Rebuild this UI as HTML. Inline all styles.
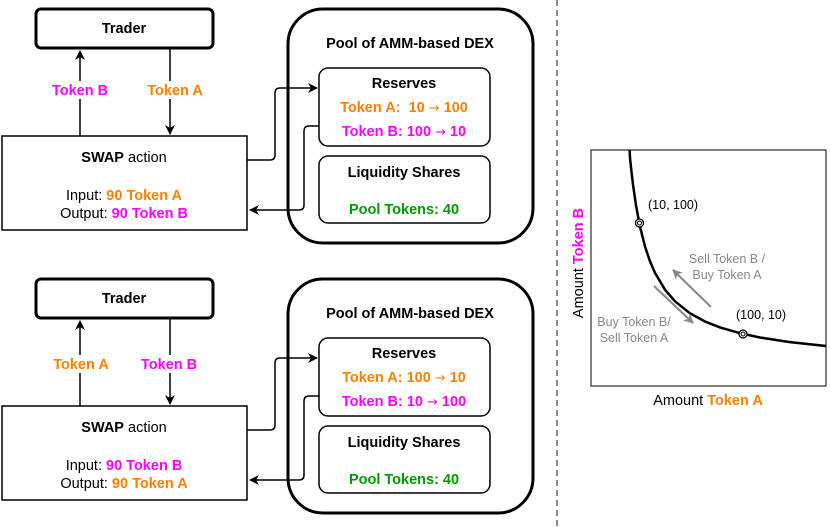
<!DOCTYPE html>
<html><head><meta charset="utf-8"><style>
html,body{margin:0;padding:0;background:#fff;}
svg{display:block;font-family:"Liberation Sans",Arial,sans-serif;}
.b{font-weight:bold;font-size:14.5px;}
.o{fill:#FF8000}.m{fill:#FF00FF}.g{fill:#009900}
.ar{font-family:"DejaVu Sans",sans-serif;font-weight:normal;font-size:13px;}
</style></head><body>
<svg width="830" height="527" viewBox="0 0 830 527" xmlns="http://www.w3.org/2000/svg">
<defs>
<marker id="ah" markerWidth="10" markerHeight="10" refX="9" refY="5" orient="auto" markerUnits="userSpaceOnUse"><path d="M0,0 L10,5 L0,10 L3,5 Z" fill="#000"/></marker>
<marker id="gh" markerWidth="10" markerHeight="10" refX="9" refY="5" orient="auto" markerUnits="userSpaceOnUse"><path d="M0,0 L10,5 L0,10 L3,5 Z" fill="#888"/></marker>
</defs>
<g id="top">
<rect x="36" y="9" width="177" height="39" rx="5" fill="#fff" stroke="#000" stroke-width="3"/>
<text x="124" y="33" text-anchor="middle" class="b">Trader</text>
<line x1="80" y1="136" x2="80" y2="51" stroke="#000" stroke-width="1.5" marker-end="url(#ah)"/>
<line x1="170" y1="49" x2="170" y2="134" stroke="#000" stroke-width="1.5" marker-end="url(#ah)"/>
<rect x="50" y="81" width="60" height="18" fill="#fff"/>
<rect x="140" y="81" width="60" height="18" fill="#fff"/>
<text x="80" y="95" text-anchor="middle" class="b m">Token B</text>
<text x="175" y="95" text-anchor="middle" class="b o">Token A</text>
<rect x="2" y="136" width="245" height="94" fill="#fff" stroke="#000" stroke-width="1.5"/>
<text x="124" y="162" text-anchor="middle" font-size="14.5"><tspan font-weight="bold">SWAP</tspan> action</text>
<text x="124" y="200" text-anchor="middle" font-size="14.5">Input: <tspan class="b o">90 Token A</tspan></text>
<text x="124" y="218" text-anchor="middle" font-size="14.5">Output: <tspan class="b m">90 Token B</tspan></text>
<rect x="288" y="9" width="245" height="234" rx="35" fill="#fff" stroke="#000" stroke-width="3"/>
<text x="410" y="48" text-anchor="middle" class="b">Pool of AMM-based DEX</text>
<rect x="319" y="68" width="171" height="78" rx="9" fill="#fff" stroke="#000" stroke-width="1.5"/>
<text x="404" y="88" text-anchor="middle" class="b">Reserves</text>
<text x="404" y="112" text-anchor="middle" class="b o">Token A:&#160; 10 <tspan class="ar">→</tspan> 100</text>
<text x="404" y="136" text-anchor="middle" class="b m">Token B: 100 <tspan class="ar">→</tspan> 10</text>
<rect x="319" y="156" width="171" height="67" rx="9" fill="#fff" stroke="#000" stroke-width="1.5"/>
<text x="404" y="177" text-anchor="middle" class="b">Liquidity Shares</text>
<text x="404" y="214" text-anchor="middle" class="b g">Pool Tokens: 40</text>
<path d="M247,160 H270 Q275,160 275,155 V93 Q275,88 280,88 H317" fill="none" stroke="#000" stroke-width="1.5" marker-end="url(#ah)"/>
<path d="M319,126 H309 Q304,126 304,131 V205 Q304,210 299,210 H250" fill="none" stroke="#000" stroke-width="1.5" marker-end="url(#ah)"/>
</g>
<g transform="translate(0,270)">
<rect x="36" y="9" width="177" height="39" rx="5" fill="#fff" stroke="#000" stroke-width="3"/>
<text x="124" y="33" text-anchor="middle" class="b">Trader</text>
<line x1="80" y1="136" x2="80" y2="51" stroke="#000" stroke-width="1.5" marker-end="url(#ah)"/>
<line x1="170" y1="49" x2="170" y2="134" stroke="#000" stroke-width="1.5" marker-end="url(#ah)"/>
<rect x="50" y="85" width="62" height="18" fill="#fff"/>
<rect x="138" y="85" width="62" height="18" fill="#fff"/>
<text x="81" y="99" text-anchor="middle" class="b o">Token A</text>
<text x="169" y="99" text-anchor="middle" class="b m">Token B</text>
<rect x="2" y="136" width="245" height="94" fill="#fff" stroke="#000" stroke-width="1.5"/>
<text x="124" y="162" text-anchor="middle" font-size="14.5"><tspan font-weight="bold">SWAP</tspan> action</text>
<text x="124" y="200" text-anchor="middle" font-size="14.5">Input: <tspan class="b m">90 Token B</tspan></text>
<text x="124" y="218" text-anchor="middle" font-size="14.5">Output: <tspan class="b o">90 Token A</tspan></text>
<rect x="288" y="9" width="245" height="234" rx="35" fill="#fff" stroke="#000" stroke-width="3"/>
<text x="410" y="48" text-anchor="middle" class="b">Pool of AMM-based DEX</text>
<rect x="319" y="68" width="171" height="78" rx="9" fill="#fff" stroke="#000" stroke-width="1.5"/>
<text x="404" y="88" text-anchor="middle" class="b">Reserves</text>
<text x="404" y="112" text-anchor="middle" class="b o">Token A: 100 <tspan class="ar">→</tspan> 10</text>
<text x="404" y="136" text-anchor="middle" class="b m">Token B: 10 <tspan class="ar">→</tspan> 100</text>
<rect x="319" y="156" width="171" height="67" rx="9" fill="#fff" stroke="#000" stroke-width="1.5"/>
<text x="404" y="177" text-anchor="middle" class="b">Liquidity Shares</text>
<text x="404" y="214" text-anchor="middle" class="b g">Pool Tokens: 40</text>
<path d="M247,160 H270 Q275,160 275,155 V93 Q275,88 280,88 H317" fill="none" stroke="#000" stroke-width="1.5" marker-end="url(#ah)"/>
<path d="M319,126 H309 Q304,126 304,131 V205 Q304,210 299,210 H250" fill="none" stroke="#000" stroke-width="1.5" marker-end="url(#ah)"/>
</g>
<line x1="557" y1="0" x2="557" y2="527" stroke="#888" stroke-width="2" stroke-dasharray="6,4"/>
<rect x="591" y="150" width="235" height="236" fill="#fff" stroke="#000" stroke-width="1"/>
<polyline points="629.6,150 630,157.5 631,167.4 633,184.6 636,205.4 640,226.7 645,246.5 650,261.4 655,272.9 665,289.7 675,301.3 690,313.3 705,321.5 720,327.4 740,333.2 760,337.5 790,342.1 826,346" fill="none" stroke="#000" stroke-width="2.5" stroke-linejoin="round"/>
<circle cx="639.5" cy="223" r="4" fill="#fff" stroke="#000" stroke-width="1.3"/><circle cx="639.5" cy="223" r="2" fill="none" stroke="#000" stroke-width="1"/>
<circle cx="743" cy="334" r="4" fill="#fff" stroke="#000" stroke-width="1.3"/><circle cx="743" cy="334" r="2" fill="none" stroke="#000" stroke-width="1"/>
<text x="648" y="209" font-size="12.5">(10, 100)</text>
<text x="736" y="319" font-size="12.5">(100, 10)</text>
<line x1="711" y1="307" x2="673" y2="270" stroke="#888" stroke-width="2" marker-end="url(#gh)"/>
<line x1="654" y1="286" x2="693" y2="323" stroke="#888" stroke-width="2" marker-end="url(#gh)"/>
<text x="727" y="263" text-anchor="middle" font-size="12.5" fill="#888">Sell Token B /</text>
<text x="727" y="279" text-anchor="middle" font-size="12.5" fill="#888">Buy Token A</text>
<text x="634" y="326" text-anchor="middle" font-size="12.5" fill="#888">Buy Token B/</text>
<text x="634" y="342" text-anchor="middle" font-size="12.5" fill="#888">Sell Token A</text>
<text transform="translate(583,263) rotate(-90)" text-anchor="middle" font-size="14.5">Amount <tspan class="b m">Token B</tspan></text>
<text x="708" y="405" text-anchor="middle" font-size="14.5">Amount <tspan class="b o">Token A</tspan></text>
</svg>
</body></html>
